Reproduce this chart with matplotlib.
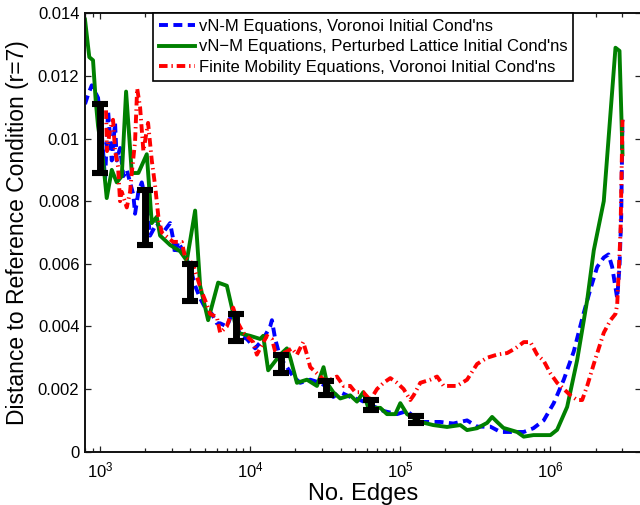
import numpy as np
import matplotlib
matplotlib.use('Agg')
import matplotlib.pyplot as plt
from matplotlib.ticker import FixedLocator, LogLocator, NullFormatter, FixedFormatter

plt.rcParams['font.family'] = ['Liberation Sans', 'DejaVu Sans']
plt.rcParams['mathtext.fontset'] = 'custom'
plt.rcParams['mathtext.rm'] = 'Liberation Sans'
plt.rcParams['mathtext.it'] = 'Liberation Sans:italic'
plt.rcParams['mathtext.bf'] = 'Liberation Sans:bold'

# ---- data ----
labels = ["vN-M Equations, Voronoi Initial Cond'ns",
          "vN\u2212M Equations, Perturbed Lattice Initial Cond'ns",
          "Finite Mobility Equations, Voronoi Initial Cond'ns"]

bx = [794, 832, 881, 970, 1026, 1080, 1131, 1197, 1259, 1292, 1359, 1430, 1507, 1585, 1667,
      1711, 1800, 1897, 2048, 2154, 2388, 2630, 2929, 3067, 3162, 3311, 3576, 3981, 4299, 4642,
      5012, 5555, 5998, 6310, 6995, 7703, 8577, 9506, 10797, 12212, 13594, 13955, 14678, 15849,
      17566, 19350, 21544, 25119, 29286, 34146, 35754, 39811, 46416, 54117, 63096, 77374, 95060,
      110840, 135940, 184780, 225630, 278460, 324560, 398110, 464160, 566700, 663800, 770300,
      902300, 1052000, 1227000, 1430000, 1660000, 1848000, 2048000, 2266000, 2436000, 2578000,
      2784000, 2884000, 2960000, 3020000]
by = [0.0111, 0.0114, 0.0117, 0.0113, 0.0102, 0.0087, 0.0109, 0.0093, 0.0105, 0.0093, 0.0097,
      0.0088, 0.0090, 0.0086, 0.0082, 0.0076, 0.0083, 0.0086, 0.0079, 0.0069, 0.0073, 0.0070,
      0.0073, 0.0068, 0.0063, 0.0067, 0.0064, 0.0059, 0.0053, 0.0049, 0.0046, 0.0044, 0.0041,
      0.0041, 0.0040, 0.0045, 0.0037, 0.0036, 0.0033, 0.0036, 0.0040, 0.0042, 0.0036, 0.0030,
      0.0027, 0.0024, 0.0022, 0.0023, 0.0022, 0.0020, 0.00175, 0.0019, 0.00175, 0.00165, 0.0015,
      0.0013, 0.0012, 0.0013, 0.00095, 0.00095, 0.0009, 0.0010, 0.0008, 0.0008, 0.00063, 0.00063,
      0.00063, 0.00075, 0.0010, 0.00155, 0.0023, 0.0032, 0.0044, 0.0052, 0.0059, 0.0062, 0.0063,
      0.0059, 0.0049, 0.0059, 0.0075, 0.0106]

gx = [794, 848, 898, 936, 970, 1047, 1108, 1197, 1292, 1395, 1491, 1627, 1800, 2048, 2211, 2388,
      2512, 2929, 3415, 3784, 4299, 4642, 5248, 5667, 6119, 6995, 7551, 8153, 10000, 11659,
      12212, 13183, 15849, 17566, 18478, 20480, 23878, 27846, 30815, 32456, 35754, 39811, 46416,
      51441, 56670, 61180, 73564, 81532, 92640, 100000, 110840, 135940, 165960, 204800, 251190,
      278460, 324560, 378440, 408700, 441300, 486100, 599800, 663800, 770300, 1000000, 1108000,
      1292000, 1507000, 1757000, 1944000, 2266000, 2712000, 2884000, 3020000]
gy = [0.0138, 0.0126, 0.0125, 0.0112, 0.0104, 0.0093, 0.0081, 0.0090, 0.0086, 0.0088, 0.0115,
      0.0089, 0.0089, 0.0095, 0.0073, 0.0075, 0.0069, 0.0066, 0.0064, 0.0061, 0.0077, 0.0053,
      0.0042, 0.0048, 0.0054, 0.0053, 0.0046, 0.0038, 0.0037, 0.0036, 0.0037, 0.0026, 0.0031,
      0.0033, 0.0030, 0.0022, 0.0023, 0.0021, 0.0027, 0.0022, 0.0019, 0.0017, 0.0018, 0.0016,
      0.0019, 0.0014, 0.0014, 0.0012, 0.0012, 0.00155, 0.0012, 0.00095, 0.00085, 0.00079,
      0.00085, 0.00069, 0.00075, 0.00092, 0.00111, 0.00095, 0.00076, 0.00063, 0.00048, 0.00053,
      0.00053, 0.0007, 0.00143, 0.00293, 0.00484, 0.00643, 0.0080, 0.0129, 0.0128, 0.0095]

rx = [1096, 1113, 1166, 1221, 1259, 1318, 1359, 1395, 1507, 1585, 1627, 1711, 1767, 1848, 1944,
      2089, 2211, 2326, 2447, 2578, 3067, 3505, 3687, 4169, 4413, 4764, 5144, 5412, 5998, 6310,
      6995, 7703, 8318, 8984, 10471, 11084, 12925, 13955, 14678, 15849, 17566, 18967, 20480,
      22563, 23878, 25119, 27846, 30815, 34146, 37844, 41879, 46416, 50119, 56670, 63096, 69954,
      77374, 85770, 95060, 105200, 116590, 122670, 135940, 158490, 175660, 194400, 215440,
      238780, 278460, 324560, 378440, 441300, 514400, 584400, 663800, 735600, 815300, 902300,
      1000000, 1108000, 1227000, 1359000, 1507000, 1627000, 1757000, 1944000, 2266000, 2512000,
      2712000, 2784000, 2853000, 2929000, 3020000]
ry = [0.0109, 0.0096, 0.0103, 0.0106, 0.0096, 0.0091, 0.0080, 0.0083, 0.0078, 0.0083, 0.0089,
      0.0099, 0.0116, 0.0110, 0.0096, 0.0105, 0.0093, 0.0085, 0.0075, 0.0070, 0.0067, 0.0067,
      0.0062, 0.0060, 0.0056, 0.0051, 0.0047, 0.0044, 0.0043, 0.0038, 0.0040, 0.0046, 0.0041,
      0.0038, 0.0035, 0.0031, 0.0037, 0.0036, 0.0032, 0.0031, 0.0032, 0.0033, 0.0031, 0.0035,
      0.0031, 0.0027, 0.0025, 0.0023, 0.0023, 0.0024, 0.0021, 0.0021, 0.0019, 0.0019, 0.00165,
      0.0020, 0.0022, 0.00235, 0.0022, 0.0020, 0.00165, 0.0018, 0.0022, 0.0023, 0.0024, 0.0021,
      0.0021, 0.0021, 0.0023, 0.0028, 0.0030, 0.0031, 0.00315, 0.0033, 0.0035, 0.0035, 0.0031,
      0.0029, 0.0025, 0.0022, 0.0020, 0.0018, 0.00165, 0.00165, 0.0021, 0.0028, 0.0038, 0.0042,
      0.0044, 0.0047, 0.0058, 0.0070, 0.0106]

eb_x = [1000, 2000, 4000, 8000, 16000, 32000, 64000, 128000]
eb_lo = [0.0089, 0.0066, 0.0048, 0.00353, 0.0025, 0.00182, 0.00133, 0.00091]
eb_hi = [0.0111, 0.00835, 0.0060, 0.0044, 0.0031, 0.00227, 0.00165, 0.00115]

y_ticks = [0, 0.002, 0.004, 0.006, 0.008, 0.010, 0.012, 0.014]
y_ticklabels = ['0', '0.002', '0.004', '0.006', '0.008', '0.01', '0.012', '0.014']
x_ticks = [1e3, 1e4, 1e5, 1e6]
x_ticklabels = [r'$10^{3}$', r'$10^{4}$', r'$10^{5}$', r'$10^{6}$']

# ---- figure ----
W, H = 640, 505
fig = plt.figure(figsize=(W / 100, H / 100), dpi=100)
L, R, B, T = 85, 640.5, 451.7, 13.3
ax = fig.add_axes([L / W, 1 - B / H, (R - L) / W, (B - T) / H])

lw = 2.8
ax.plot(bx, by, color='#0000ff', lw=lw, linestyle=(0, (2.3, 1.4)), label=labels[0], zorder=2)
ax.plot(gx, gy, color='#008000', lw=lw, linestyle='-', label=labels[1], zorder=2)
ax.plot(rx, ry, color='#ff0000', lw=lw, linestyle=(0, (2.2, 1.0, 0.35, 1.0)), label=labels[2], zorder=2)

eb_lo_a = np.array(eb_lo)
eb_hi_a = np.array(eb_hi)
eb_c = (eb_lo_a + eb_hi_a) / 2
eb_e = (eb_hi_a - eb_lo_a) / 2
ax.errorbar(eb_x, eb_c, yerr=eb_e, fmt='none', ecolor='k', elinewidth=5.0,
            capsize=5.7, capthick=4.4, zorder=4)

ax.set_xscale('log')
ax.set_xlim(794, 3.98e6)
ax.set_ylim(0, 0.014)

ax.xaxis.set_major_locator(FixedLocator(x_ticks))
ax.xaxis.set_major_formatter(FixedFormatter(x_ticklabels))
ax.xaxis.set_minor_locator(LogLocator(base=10, subs=np.arange(2, 10), numticks=20))
ax.xaxis.set_minor_formatter(NullFormatter())
ax.yaxis.set_major_locator(FixedLocator(y_ticks))
ax.yaxis.set_major_formatter(FixedFormatter(y_ticklabels))

ax.tick_params(which='both', direction='in', top=True, right=True, colors='#222222',
               labelcolor='black', labelsize=12, width=0.9)
ax.tick_params(which='major', length=4)
ax.tick_params(which='minor', length=3)
ax.tick_params(axis='x', which='major', pad=6)
ax.tick_params(axis='y', which='major', pad=4)

for sp in ax.spines.values():
    sp.set_linewidth(1.4)
    sp.set_color('#111111')

ax.set_xlabel('No. Edges', fontsize=17, labelpad=2)
ax.set_ylabel('Distance to Reference Condition (r=7)', fontsize=16.5, labelpad=6)

leg = ax.legend(loc='upper left', bbox_to_anchor=((153.3 - L) / (R - L), 1.0),
                fontsize=12.0, frameon=True, fancybox=False, edgecolor='black',
                framealpha=1, borderpad=0.35, labelspacing=0.32, handlelength=2.15,
                handletextpad=0.22, borderaxespad=0)
leg.get_frame().set_linewidth(1.2)

fig.savefig('out.png', dpi=100)
